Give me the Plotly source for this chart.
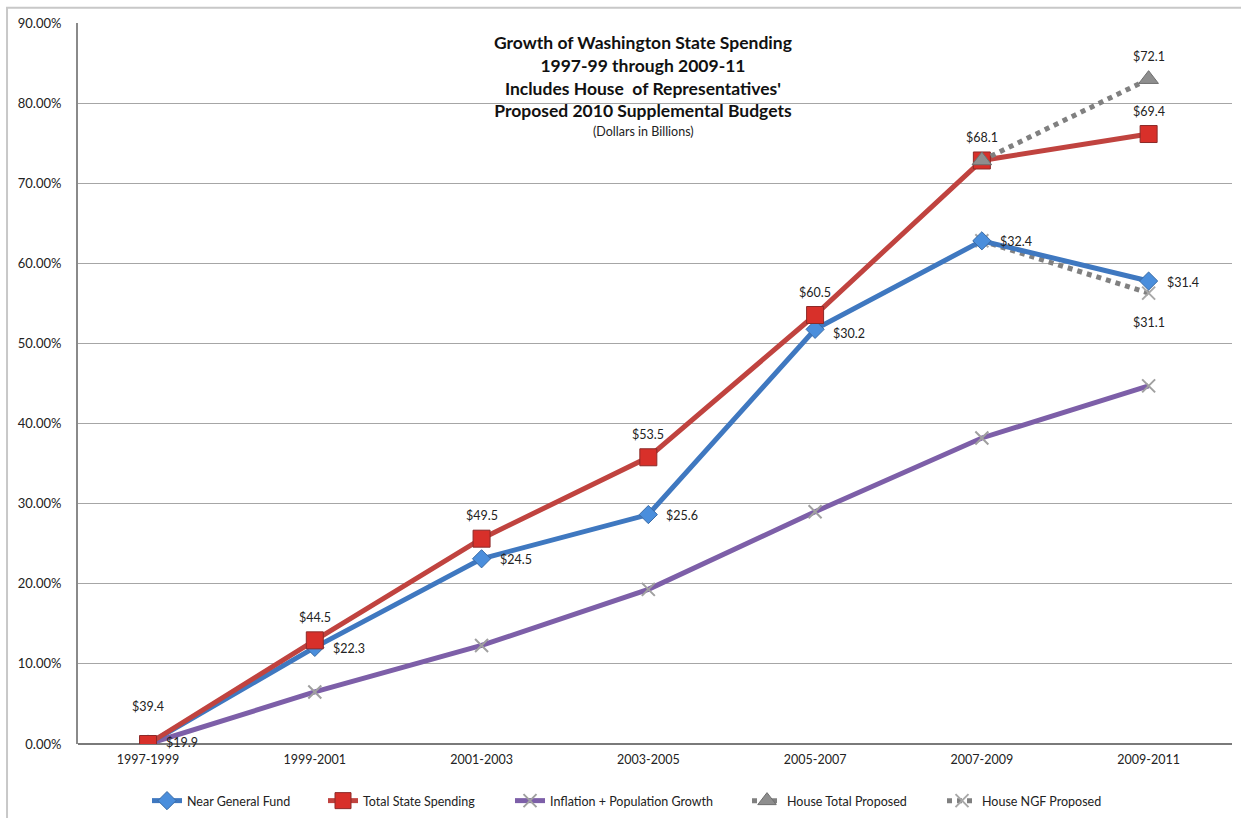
import plotly.graph_objects as go

periods = ["1997-1999", "1999-2001", "2001-2003", "2003-2005", "2005-2007", "2007-2009", "2009-2011"]
ngf_pct = [0.0, 12.06, 23.12, 28.64, 51.76, 62.81, 57.79]
ngf_labels = ["$19.9", "$22.3", "$24.5", "$25.6", "$30.2", "$32.4", "$31.4"]
total_pct = [0.0, 12.94, 25.63, 35.79, 53.55, 72.84, 76.14]
total_labels = ["$39.4", "$44.5", "$49.5", "$53.5", "$60.5", "$68.1", "$69.4"]
infl_pct = [0.0, 6.5, 12.3, 19.3, 29.0, 38.2, 44.7]
house_total_periods = ["2007-2009", "2009-2011"]
house_total_pct = [72.84, 82.99]
house_total_labels = ["", "$72.1"]
house_ngf_periods = ["2007-2009", "2009-2011"]
house_ngf_pct = [62.81, 56.28]
house_ngf_labels = ["", "$31.1"]
yticks = [0, 10, 20, 30, 40, 50, 60, 70, 80, 90]

FONT = "Lato"
BLUE = "#3F78C0"
RED = "#C0433F"
PURPLE = "#7D5FA8"
GRAY = "#808080"
TXT = "#222222"

xi = {p: i for i, p in enumerate(periods)}

fig = go.Figure()

fig.add_trace(go.Scatter(
    x=[xi[p] for p in periods], y=infl_pct, mode="lines+markers",
    name="Inflation + Population Growth", legend="legend3",
    line=dict(color=PURPLE, width=5),
    marker=dict(symbol="x-thin", size=13, color="#A0A0A0", line=dict(color="#A0A0A0", width=2)),
))
fig.add_trace(go.Scatter(
    x=[xi[p] for p in house_ngf_periods], y=house_ngf_pct, mode="lines+markers",
    name="House NGF Proposed", legend="legend5",
    line=dict(color=GRAY, width=5, dash="dot"),
    marker=dict(symbol="x-thin", size=13, color="#A8A8A8", line=dict(color="#A8A8A8", width=2)),
))
fig.add_trace(go.Scatter(
    x=[xi[p] for p in periods], y=ngf_pct, mode="lines+markers",
    name="Near General Fund", legend="legend",
    line=dict(color=BLUE, width=5),
    marker=dict(symbol="diamond", size=14, color="#4A8EDC", line=dict(color="#3A6BA5", width=1)),
))
fig.add_trace(go.Scatter(
    x=[xi[p] for p in periods], y=total_pct, mode="lines+markers",
    name="Total State Spending", legend="legend2",
    line=dict(color=RED, width=5),
    marker=dict(symbol="square", size=17, color="#D8302A", line=dict(color="#8C2A28", width=1)),
))
fig.add_trace(go.Scatter(
    x=[xi[p] for p in house_total_periods], y=house_total_pct, mode="lines+markers",
    name="House Total Proposed", legend="legend4",
    line=dict(color=GRAY, width=5, dash="dot"),
    marker=dict(symbol="triangle-up", size=17, color="#8E8E8E", line=dict(color="#6E6E6E", width=1)),
))

lab_font = dict(family=FONT, size=12.5, color=TXT)
annotations = []
for i, (p, v, t) in enumerate(zip(periods, total_pct, total_labels)):
    annotations.append(dict(x=xi[p], y=v, xref="x", yref="y", text=t, showarrow=False,
                            xanchor="center", yanchor="middle", yshift=38 if i == 0 else 23,
                            font=lab_font))
for i, (p, v, t) in enumerate(zip(periods, ngf_pct, ngf_labels)):
    annotations.append(dict(x=xi[p], y=v, xref="x", yref="y", text=t, showarrow=False,
                            xanchor="left", yanchor="middle", xshift=16,
                            yshift={0: 2, 4: -4}.get(i, -1), font=lab_font))
for p, v, t in zip(house_total_periods, house_total_pct, house_total_labels):
    if t:
        annotations.append(dict(x=xi[p], y=v, xref="x", yref="y", text=t, showarrow=False,
                                xanchor="center", yanchor="middle", yshift=23, font=lab_font))
for p, v, t in zip(house_ngf_periods, house_ngf_pct, house_ngf_labels):
    if t:
        annotations.append(dict(x=xi[p], y=v, xref="x", yref="y", text=t, showarrow=False,
                                xanchor="center", yanchor="middle", yshift=-29, font=lab_font))

annotations += [
    dict(xref="paper", yref="paper", x=0.49, y=0.99, xanchor="center", yanchor="top",
         text="<b>Growth of Washington State Spending<br>1997-99 through 2009-11<br>"
              "Includes House  of Representatives'<br>Proposed 2010 Supplemental Budgets</b>",
         showarrow=False, font=dict(family=FONT, size=17.5, color="#111111"), align="center"),
    dict(xref="paper", yref="paper", x=0.49, y=(744 - 131) / 721, xanchor="center", yanchor="middle",
         text="(Dollars in Billions)", showarrow=False,
         font=dict(family=FONT, size=12.5, color=TXT)),
]

legend_starts = [152, 328, 515, 752, 947]
legend_keys = ["legend", "legend2", "legend3", "legend4", "legend5"]
legend_layout = {}
for key, xs in zip(legend_keys, legend_starts):
    legend_layout[key] = dict(orientation="h", x=(xs - 5) / 1241, xanchor="left", xref="container",
                              yref="container", y=17 / 818, yanchor="middle",
                              font=dict(family=FONT, size=12.5, color=TXT),
                              bgcolor="rgba(0,0,0,0)")

fig.update_layout(
    width=1241, height=818,
    margin=dict(l=78, r=9, t=23, b=74, autoexpand=False),
    paper_bgcolor="white", plot_bgcolor="white",
    font=dict(family=FONT, size=12.5, color=TXT),
    showlegend=True,
    **legend_layout,
    xaxis=dict(
        range=[-0.42, 6.5], tickmode="array",
        tickvals=list(range(len(periods))), ticktext=periods,
        showgrid=False, zeroline=False, showline=False,
        ticks="", tickfont=dict(family=FONT, size=12.5), ticklabelstandoff=6,
    ),
    yaxis=dict(
        range=[0, 90], tickmode="array", tickvals=yticks,
        ticktext=[f"{v:.2f}%" for v in yticks],
        showgrid=True, gridcolor="#A6A6A6", gridwidth=1,
        zeroline=True, zerolinecolor="#7A7A7A", zerolinewidth=2,
        showline=True, linecolor="#8A8A8A", linewidth=2,
        ticks="", tickfont=dict(family=FONT, size=13), ticklabelstandoff=12,
    ),
    annotations=annotations,
    shapes=[
        dict(type="rect", xref="paper", yref="paper", x0=-0.0615, x1=1.2, y0=-0.3, y1=1.021,
             line=dict(color="#C8C8C8", width=2), fillcolor="rgba(0,0,0,0)", layer="below"),
    ],
)

fig.write_html("out.html")
